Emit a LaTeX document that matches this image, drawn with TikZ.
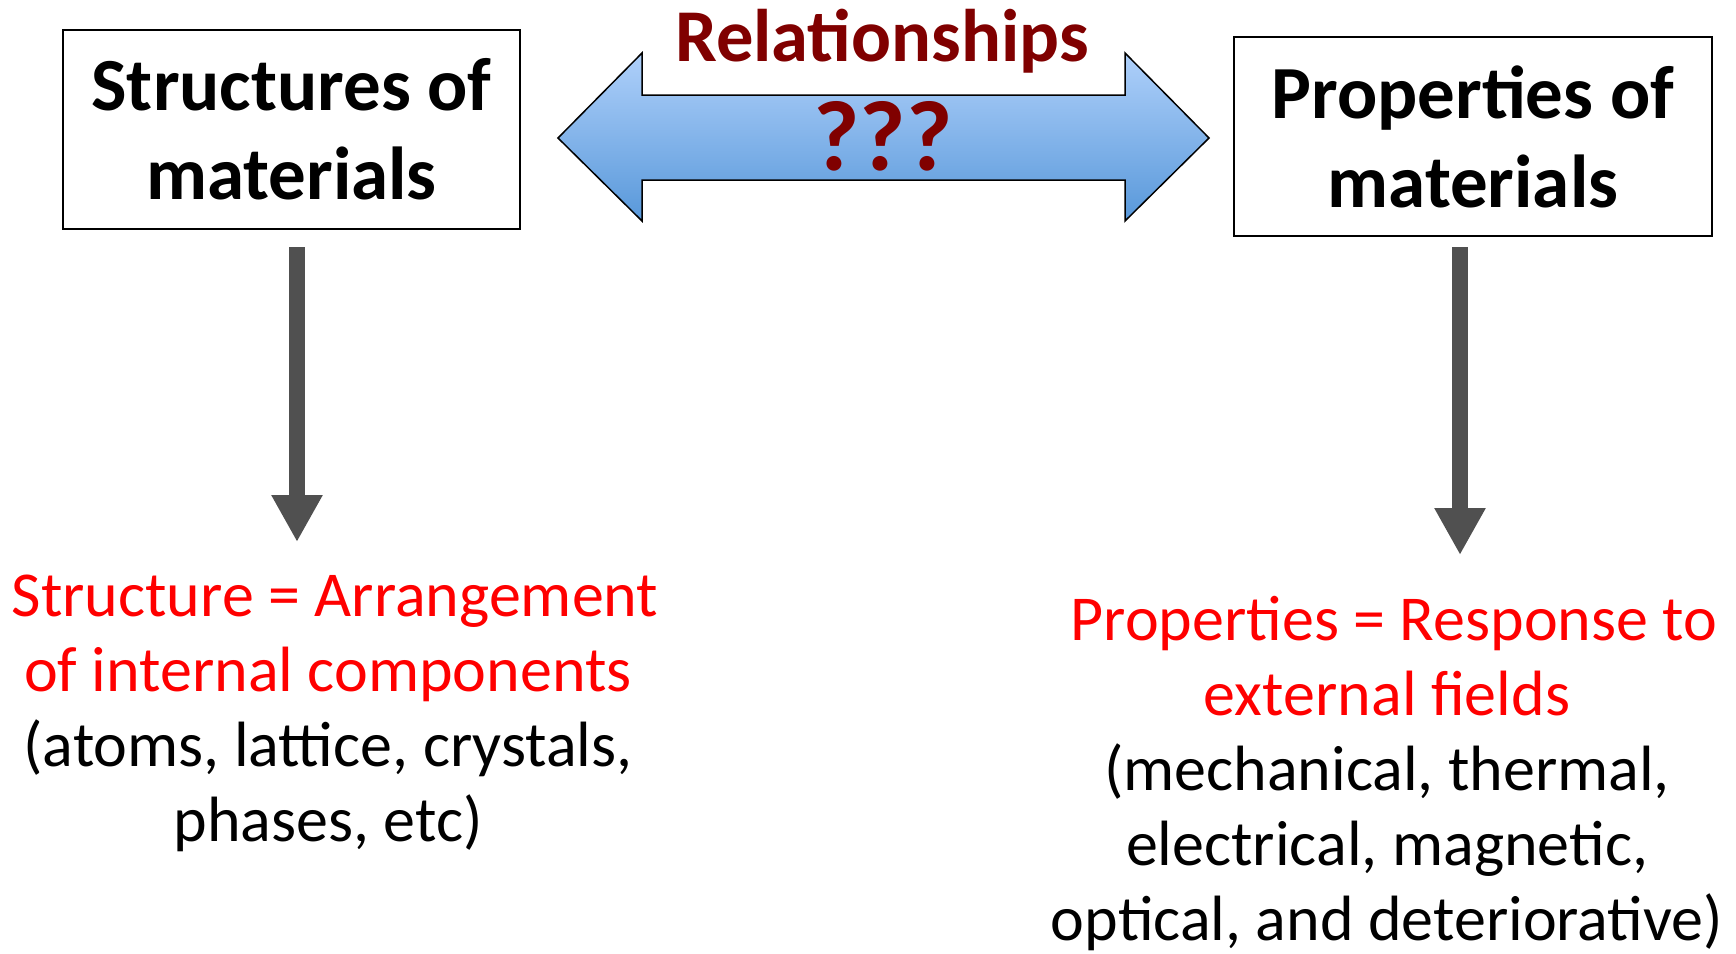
\documentclass[tikz,border=0pt]{standalone}
\usepackage{fontspec}
\setmainfont{Carlito}
\usetikzlibrary{arrows.meta}
\definecolor{relred}{RGB}{128,0,0}
\definecolor{txtred}{RGB}{255,0,0}
\definecolor{arrgrey}{RGB}{80,80,80}
\definecolor{bluetop}{RGB}{175,208,250}
\definecolor{bluebot}{RGB}{88,152,218}
\begin{document}
\begin{tikzpicture}[x=1pt,y=-1pt,
  matbox/.style={draw=black, line width=1.5pt, fill=white, align=center, inner sep=0pt,
    font=\fontsize{75}{89}\selectfont\bfseries},
  downarrow/.style={draw=arrgrey, line width=16pt, -{Triangle[width=48pt,length=47pt]}},
  desc/.style={align=center, anchor=base, inner sep=0pt, font=\fontsize{64}{75}\selectfont}
]
\useasboundingbox (0,0) rectangle (1736,953);

% boxes
\node[matbox, minimum width=457pt, minimum height=199pt] (lbox) at (291.5,129.5) {\raisebox{-4pt}{\parbox{400pt}{\centering Structures of\\materials}}};
\node[matbox, minimum width=478pt, minimum height=199pt] (rbox) at (1473,136.5) {\raisebox{-4pt}{\parbox{420pt}{\centering Properties of\\materials}}};

% double arrow
\coordinate (ltip) at (558,138);
\coordinate (rtip) at (1209,138);
\shade[top color=bluetop, bottom color=bluebot, draw=black, line width=1.5pt, line join=miter]
  (ltip) -- (642,53) -- (642,95) -- (1125,95) -- (1125,53) -- (rtip)
  -- (1125,221) -- (1125,180) -- (642,180) -- (642,221) -- cycle;
\node[anchor=base, inner sep=0pt, text=relred, font=\fontsize{74.5}{80}\selectfont\bfseries] (rel) at (882,61) {Relationships};
\node[anchor=base, inner sep=0pt, text=relred, font=\fontsize{100}{100}\selectfont\bfseries] (qq) at (883,170) {???};

% down arrows
\coordinate (la1) at (297,247);
\coordinate (la2) at (297,542);
\coordinate (ra1) at (1460,247);
\coordinate (ra2) at (1460,555);
\draw[downarrow] (la1) -- (la2);
\draw[downarrow] (ra1) -- (ra2);

% descriptions (base anchor = last line baseline)
\node[desc] (ldesc) at (328,841) {\hspace*{14pt}\textcolor{txtred}{Structure = Arrangement}\\\textcolor{txtred}{of internal components}\\(atoms, lattice, crystals,\\phases, etc)};
\node[desc] (rdesc) at (1387,940) {\hspace*{14pt}\textcolor{txtred}{Properties = Response to}\\\textcolor{txtred}{external fields}\\(mechanical, thermal,\\electrical, magnetic,\\optical, and deteriorative)};
\end{tikzpicture}
\end{document}
